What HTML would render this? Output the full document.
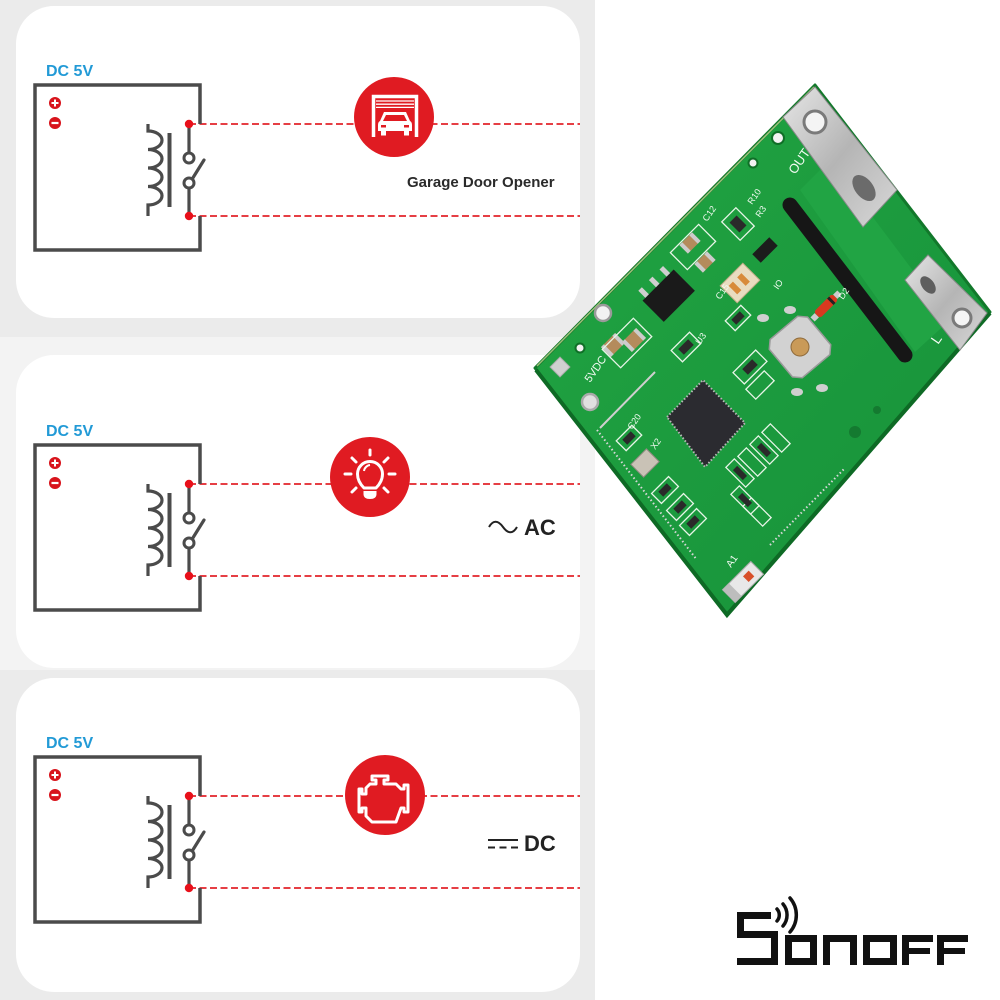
<!DOCTYPE html>
<html><head><meta charset="utf-8"><style>
html,body{margin:0;padding:0;background:#fff;width:1000px;height:1000px;overflow:hidden}
svg{display:block}
text{font-family:"Liberation Sans",Arial,sans-serif}
</style></head><body>
<svg width="1000" height="1000" viewBox="0 0 1000 1000" xmlns="http://www.w3.org/2000/svg">
<defs>
<linearGradient id="term" x1="0" y1="0" x2="1" y2="1">
<stop offset="0" stop-color="#e6e6e6"/><stop offset="0.5" stop-color="#b5b5b5"/><stop offset="1" stop-color="#d8d8d8"/>
</linearGradient>
<linearGradient id="brd" x1="0" y1="0" x2="1" y2="1">
<stop offset="0" stop-color="#22a542"/><stop offset="1" stop-color="#16913a"/>
</linearGradient>
<g id="relay">
<line x1="189" y1="124" x2="580" y2="124" stroke="#e2232a" stroke-width="1.7" stroke-dasharray="7 3.5"/>
<line x1="189" y1="216" x2="580" y2="216" stroke="#e2232a" stroke-width="1.7" stroke-dasharray="7 3.5"/>
<path d="M200,124 V85 H35 V250 H200 V216" fill="none" stroke="#4b4b4b" stroke-width="3.5"/>
<path d="M189,124 V153 M189,188 V216" stroke="#4b4b4b" stroke-width="3.2" fill="none"/>
<circle cx="189" cy="158" r="5" fill="#fff" stroke="#4b4b4b" stroke-width="3"/>
<circle cx="189" cy="183" r="5" fill="#fff" stroke="#4b4b4b" stroke-width="3"/>
<path d="M192.5,178.5 L204,160" stroke="#4b4b4b" stroke-width="3.2" stroke-linecap="round"/>
<path d="M148,124 V131 a14,9.25 0 0 1 0,18.5 a14,9.25 0 0 1 0,18.5 a14,9.25 0 0 1 0,18.5 a14,9.25 0 0 1 0,18.5 V216" fill="none" stroke="#4b4b4b" stroke-width="3.2"/>
<rect x="167.5" y="133" width="4" height="74" fill="#4b4b4b"/>
<circle cx="55" cy="103" r="6" fill="#d8141c"/>
<path d="M51.5,103 H58.5 M55,99.5 V106.5" stroke="#fff" stroke-width="2"/>
<circle cx="55" cy="123" r="6" fill="#d8141c"/>
<path d="M51.5,123 H58.5" stroke="#fff" stroke-width="2.2"/>
<circle cx="189" cy="124" r="4.2" fill="#e8101a"/>
<circle cx="189" cy="216" r="4.2" fill="#e8101a"/>
</g>
</defs>

<!-- backgrounds -->
<rect x="0" y="0" width="1000" height="1000" fill="#ffffff"/>
<rect x="0" y="0" width="595" height="1000" fill="#ebebeb"/>
<rect x="0" y="337" width="595" height="333" fill="#f3f3f3"/>

<!-- panels -->
<rect x="16" y="6" width="564" height="312" rx="38" fill="#ffffff"/>
<rect x="16" y="355" width="564" height="313" rx="38" fill="#ffffff"/>
<rect x="16" y="678" width="564" height="314" rx="38" fill="#ffffff"/>

<!-- relay diagrams -->
<use href="#relay"/>
<use href="#relay" y="360"/>
<use href="#relay" y="672"/>

<text x="46" y="76" font-size="16" font-weight="bold" fill="#229ad6">DC 5V</text>
<text x="46" y="436" font-size="16" font-weight="bold" fill="#229ad6">DC 5V</text>
<text x="46" y="748" font-size="16" font-weight="bold" fill="#229ad6">DC 5V</text>

<!-- garage icon -->
<circle cx="394" cy="117" r="40" fill="#e01b22"/>
<path d="M373.5,137 V96.5 H416.5 V137" fill="none" stroke="#fff" stroke-width="3.5"/>
<path d="M376,101 H414 M376,104.2 H414 M376,107.4 H414" stroke="#fff" stroke-width="1.3"/>
<path d="M384,112 H406 L410,121 Q412,122 412,125 V131 H409 V135.5 H404 V131 H386 V135.5 H381 V131 H378 V125 Q378,122 380,121 Z" fill="#fff"/>
<path d="M386,115 H404 L407,121 H383 Z" fill="#e01b22"/>
<rect x="381" y="125" width="5" height="2.5" fill="#e01b22"/>
<rect x="404" y="125" width="5" height="2.5" fill="#e01b22"/>
<text x="407" y="187" font-size="15" font-weight="bold" fill="#2a2a2a">Garage Door Opener</text>

<!-- bulb icon -->
<circle cx="370" cy="477" r="40" fill="#e01b22"/>
<path d="M364,488 C360,484 357.5,480 357.5,474 A12.5,12.5 0 1 1 382.5,474 C382.5,480 380,484 376,488 Z" fill="none" stroke="#fff" stroke-width="3" stroke-linejoin="round"/>
<path d="M363.5,491 H376.5 V494 Q376.5,499 370,499 Q363.5,499 363.5,494 Z" fill="#fff"/>
<path d="M364,471 A7,7 0 0 1 370,465" fill="none" stroke="#fff" stroke-width="2"/>
<g stroke="#fff" stroke-width="3" stroke-linecap="round">
<path d="M370,450 V455"/>
<path d="M352,458 L356,462"/>
<path d="M388,458 L384,462"/>
<path d="M345,474 H351"/>
<path d="M389,474 H395"/>
<path d="M352,492 L356,488"/>
<path d="M388,492 L384,488"/>
</g>
<path d="M489,527 C493,520 498,520 503,527 C508,534 513,534 517,527" fill="none" stroke="#222" stroke-width="2"/>
<text x="524" y="535" font-size="22" font-weight="bold" fill="#222">AC</text>

<!-- engine icon -->
<circle cx="385" cy="795" r="40" fill="#e01b22"/>
<path d="M372,776 H388 V780 H384 V784 H396 L401,789 H404 V785 H408 V812 H404 V808 H401 L396,822 H372 L366,816 V808 H362 V812 H359 V789 H362 V794 H366 V788 L370,784 H376 V780 H372 Z" fill="none" stroke="#fff" stroke-width="3" stroke-linejoin="round"/>
<path d="M488,840 H518" stroke="#222" stroke-width="2"/>
<path d="M488,847.5 H518" stroke="#222" stroke-width="2" stroke-dasharray="7 4.5"/>
<text x="524" y="851" font-size="22" font-weight="bold" fill="#222">DC</text>

<!-- SONOFF logo -->
<g fill="#111">
<rect x="737" y="912" width="34" height="7"/>
<rect x="737" y="912" width="7" height="26"/>
<rect x="737" y="931" width="41" height="7"/>
<rect x="771" y="931" width="7" height="34"/>
<rect x="737" y="958" width="41" height="7"/>
<path d="M785,935 H817 V965 H785 Z M792,942 V958 H810 V942 Z" fill-rule="evenodd"/>
<path d="M823,935 H857 V965 H850 V942 H830 V965 H823 Z"/>
<path d="M863,935 H897 V965 H863 Z M870,942 V958 H890 V942 Z" fill-rule="evenodd"/>
<path d="M902,935 H933 V942 H909 V948 H930 V954 H909 V965 H902 Z"/>
<path d="M937,935 H968 V942 H944 V948 H965 V954 H944 V965 H937 Z"/>
</g>
<g fill="none" stroke="#111" stroke-width="3.5" stroke-linecap="round">
<path d="M777,909 A9,9 0 0 1 777,921"/>
<path d="M783,904 A17,17 0 0 1 783,926"/>
<path d="M790,898 A26,26 0 0 1 790,932"/>
</g>

<!-- PCB -->
<g>
<polygon points="535,368 815,85 990,312 727,614" fill="url(#brd)" stroke="#12782b" stroke-width="3" stroke-linejoin="round"/>
<path d="M536,370 L727,615 L990,313" fill="none" stroke="#0e6a25" stroke-width="4"/>
<path d="M537,366 L814,87" stroke="#9fbf7a" stroke-width="1.5"/>
<!-- trace region near slot -->
<polygon points="800,190 830,160 950,320 915,352" fill="#21a444"/>
<!-- slot -->
<line x1="790" y1="205" x2="905" y2="355" stroke="#161616" stroke-width="15" stroke-linecap="round"/>
<!-- terminal OUT -->
<polygon points="783,117 815,87 897,190 863,227" fill="url(#term)" stroke="#8a8a8a" stroke-width="1"/>
<ellipse cx="864" cy="188" rx="15" ry="9" transform="rotate(52 864 188)" fill="#6b6b6b"/>
<circle cx="815" cy="122" r="11" fill="#f4f4f4" stroke="#7a7a7a" stroke-width="3"/>
<!-- terminal L -->
<polygon points="905,280 928,255 987,313 960,350" fill="url(#term)" stroke="#8a8a8a" stroke-width="1"/>
<ellipse cx="928" cy="285" rx="10" ry="6" transform="rotate(52 928 285)" fill="#5e5e5e"/>
<circle cx="962" cy="318" r="9" fill="#f4f4f4" stroke="#7a7a7a" stroke-width="3"/>
<!-- holes -->
<circle cx="603" cy="313" r="8" fill="#f2f2f2" stroke="#9a9a9a" stroke-width="2.5"/>
<circle cx="590" cy="402" r="8" fill="#e0e0e0" stroke="#aaa" stroke-width="2.5"/>
<rect x="553" y="360" width="14" height="14" fill="#d0d0d0" stroke="#aaa" transform="rotate(-45 560 367)"/>
<circle cx="580" cy="348" r="4.5" fill="#f2f2f2" stroke="#0f6f27" stroke-width="2"/>
<circle cx="778" cy="138" r="6" fill="#f2f2f2" stroke="#0f6f27" stroke-width="2"/>
<circle cx="753" cy="163" r="4.5" fill="#f2f2f2" stroke="#0f6f27" stroke-width="2"/>
<circle cx="855" cy="432" r="6" fill="#147a30"/>
<circle cx="877" cy="410" r="4" fill="#147a30"/>
<!-- regulator -->
<g transform="translate(668,295) rotate(-45)">
<rect x="-22" y="-14" width="44" height="30" fill="#1a1a1a"/>
<rect x="-18" y="-24" width="5" height="10" fill="#cfcfcf"/>
<rect x="-3" y="-24" width="5" height="10" fill="#cfcfcf"/>
<rect x="12" y="-24" width="5" height="10" fill="#cfcfcf"/>
</g>
<!-- small black sot -->
<g transform="translate(765,250) rotate(-45)"><rect x="-12" y="-6" width="24" height="12" fill="#1c1c1c"/></g>
<!-- LED block -->
<g transform="translate(740,283) rotate(-45)"><rect x="-16" y="-12" width="32" height="24" fill="#e9dcc0" stroke="#bfae86"/><rect x="-10" y="-6" width="6" height="12" fill="#d88a3a"/><rect x="2" y="-6" width="6" height="12" fill="#d88a3a"/></g>
<!-- caps -->
<g transform="translate(690,243) rotate(-45)"><rect x="-9" y="-6" width="18" height="12" fill="#b48b5c"/><rect x="-9" y="-6" width="4" height="12" fill="#ccc"/><rect x="5" y="-6" width="4" height="12" fill="#ccc"/></g>
<g transform="translate(705,262) rotate(-45)"><rect x="-9" y="-6" width="18" height="12" fill="#b48b5c"/><rect x="-9" y="-6" width="4" height="12" fill="#ccc"/><rect x="5" y="-6" width="4" height="12" fill="#ccc"/></g>
<g transform="translate(613,345) rotate(-45)"><rect x="-10" y="-7" width="20" height="14" fill="#b48b5c"/><rect x="-10" y="-7" width="4" height="14" fill="#ccc"/><rect x="6" y="-7" width="4" height="14" fill="#ccc"/></g>
<g transform="translate(634,340) rotate(-45)"><rect x="-10" y="-7" width="20" height="14" fill="#b48b5c"/><rect x="-10" y="-7" width="4" height="14" fill="#ccc"/><rect x="6" y="-7" width="4" height="14" fill="#ccc"/></g>
<g transform="translate(645,463) rotate(-45)"><rect x="-11" y="-9" width="22" height="18" fill="#c9c2b6" stroke="#8f8a80"/></g>
<!-- diode -->
<g transform="translate(826,306) rotate(-45)"><rect x="-13" y="-4.5" width="26" height="9" rx="3" fill="#d8391f"/><rect x="6" y="-4.5" width="3" height="9" fill="#222"/><rect x="-19" y="-3" width="6" height="6" fill="#ccc"/><rect x="13" y="-3" width="6" height="6" fill="#ccc"/></g>
<!-- tactile switch -->
<g transform="translate(800,347) rotate(-40)">
<path d="M-18,-25 H18 L25,-18 V18 L18,25 H-18 L-25,18 V-18 Z" fill="#d2d2d2" stroke="#9a9a9a" stroke-width="1.5"/>
<circle r="9" fill="#c99a58" stroke="#8e6a3a"/>
</g>
<ellipse cx="763" cy="318" rx="6" ry="4" fill="#cfcfcf"/>
<ellipse cx="790" cy="310" rx="6" ry="4" fill="#cfcfcf"/>
<ellipse cx="822" cy="388" rx="6" ry="4" fill="#cfcfcf"/>
<ellipse cx="797" cy="392" rx="6" ry="4" fill="#cfcfcf"/>
<!-- QFN chip -->
<polygon points="667,417 703,380 745,423 705,467" fill="#2a2a2e" stroke="#b8b8b8" stroke-width="2" stroke-dasharray="1.5 2"/>
<polygon points="669,417 703,382 743,423 705,465" fill="#2b2b30"/>
<!-- silkscreen outlines -->
<g fill="none" stroke="#e8f5e8" stroke-width="1.3">
<g transform="translate(693,247) rotate(-45)"><rect x="-20" y="-12" width="40" height="24"/></g>
<g transform="translate(738,224) rotate(-45)"><rect x="-10" y="-13" width="20" height="26"/></g>
<g transform="translate(627,343) rotate(-45)"><rect x="-22" y="-13" width="44" height="26"/></g>
<g transform="translate(686,347) rotate(-45)"><rect x="-13" y="-8" width="26" height="16"/></g>
<g transform="translate(738,318) rotate(-45)"><rect x="-11" y="-7" width="22" height="14"/></g>
<g transform="translate(750,367) rotate(-45)"><rect x="-16" y="-8" width="32" height="16"/></g>
<g transform="translate(760,385) rotate(-45)"><rect x="-13" y="-7" width="26" height="14"/></g>
<g transform="translate(629,438) rotate(-45)"><rect x="-11" y="-7" width="22" height="14"/></g>
<g transform="translate(665,490) rotate(-45)"><rect x="-12" y="-7" width="24" height="14"/></g>
<g transform="translate(680,507) rotate(-45)"><rect x="-12" y="-7" width="24" height="14"/></g>
<g transform="translate(693,522) rotate(-45)"><rect x="-12" y="-7" width="24" height="14"/></g>
<g transform="translate(740,473) rotate(45)"><rect x="-14" y="-6" width="28" height="12"/></g>
<g transform="translate(752,462) rotate(45)"><rect x="-14" y="-6" width="28" height="12"/></g>
<g transform="translate(764,450) rotate(45)"><rect x="-14" y="-6" width="28" height="12"/></g>
<g transform="translate(776,438) rotate(45)"><rect x="-14" y="-6" width="28" height="12"/></g>
<g transform="translate(745,500) rotate(45)"><rect x="-14" y="-6" width="28" height="12"/></g>
<g transform="translate(757,512) rotate(45)"><rect x="-14" y="-6" width="28" height="12"/></g>
</g>
<!-- small SMD resistors -->
<g fill="#2a2a2a">
<g transform="translate(686,347) rotate(-45)"><rect x="-7" y="-4" width="14" height="8"/></g>
<g transform="translate(738,318) rotate(-45)"><rect x="-6" y="-3.5" width="12" height="7"/></g>
<g transform="translate(750,367) rotate(-45)"><rect x="-7" y="-4" width="14" height="8"/></g>
<g transform="translate(629,438) rotate(-45)"><rect x="-6" y="-3.5" width="12" height="7"/></g>
<g transform="translate(665,490) rotate(-45)"><rect x="-6" y="-3.5" width="12" height="7"/></g>
<g transform="translate(680,507) rotate(-45)"><rect x="-6" y="-3.5" width="12" height="7"/></g>
<g transform="translate(693,522) rotate(-45)"><rect x="-6" y="-3.5" width="12" height="7"/></g>
<g transform="translate(740,473) rotate(45)"><rect x="-7" y="-3" width="14" height="6"/></g>
<g transform="translate(764,450) rotate(45)"><rect x="-7" y="-3" width="14" height="6"/></g>
<g transform="translate(745,500) rotate(45)"><rect x="-7" y="-3" width="14" height="6"/></g>
<g transform="translate(738,224) rotate(-45)"><rect x="-5" y="-7" width="10" height="14"/></g>
</g>
<!-- module dotted borders -->
<line x1="597" y1="430" x2="697" y2="560" stroke="#d8d8d8" stroke-width="2" stroke-dasharray="1.5 2.5"/>
<line x1="770" y1="545" x2="845" y2="468" stroke="#d8d8d8" stroke-width="2" stroke-dasharray="1.5 2.5"/>
<line x1="600" y1="428" x2="655" y2="372" stroke="#cfcfcf" stroke-width="2"/>
<!-- bottom LED A1 -->
<g transform="translate(743,582) rotate(-45)"><rect x="-20" y="-9" width="40" height="18" fill="#e8e8e8" stroke="#aaa"/><rect x="4" y="-4" width="8" height="8" fill="#d8502a"/><rect x="-20" y="-9" width="9" height="18" fill="#bdbdbd"/></g>
<!-- silkscreen text -->
<g fill="#f2fbf2" font-size="13">
<text transform="translate(795,175) rotate(-55)">OUT</text>
<text transform="translate(938,345) rotate(-55)" font-size="14">L</text>
<text transform="translate(590,383) rotate(-55)" font-size="11">5VDC</text>
<text transform="translate(731,568) rotate(-55)" font-size="10">A1</text>
<text transform="translate(752,205) rotate(-55)" font-size="9">R10</text>
<text transform="translate(760,218) rotate(-55)" font-size="9">R3</text>
<text transform="translate(707,222) rotate(-55)" font-size="9">C12</text>
<text transform="translate(720,300) rotate(-55)" font-size="9">C15</text>
<text transform="translate(778,290) rotate(-55)" font-size="9">IO</text>
<text transform="translate(843,300) rotate(-55)" font-size="9">D2</text>
<text transform="translate(700,345) rotate(-55)" font-size="9">U3</text>
<text transform="translate(632,430) rotate(-55)" font-size="9">C20</text>
<text transform="translate(655,450) rotate(-55)" font-size="9">X2</text>
</g>
</g>
</svg>
</body></html>
